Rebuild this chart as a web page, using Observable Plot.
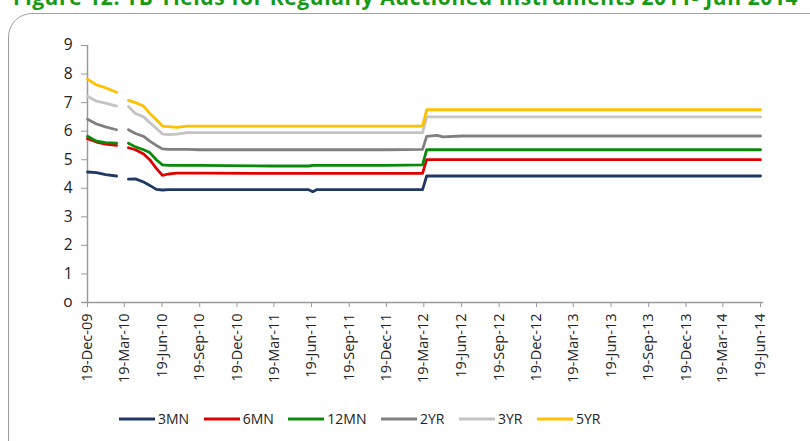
<!DOCTYPE html>
<html>
<head>
<meta charset="utf-8">
<script src="https://cdn.jsdelivr.net/npm/d3@7"></script>
<script src="https://cdn.jsdelivr.net/npm/@observablehq/plot@0.6"></script>
<style>
  html, body { margin: 0; padding: 0; background: #fff; width: 810px; height: 441px; overflow: hidden; position: relative; font-family: "Open Sans", sans-serif; }
  #title { position: absolute; left: 13px; top: -17px; white-space: nowrap; color: #159a15; font-weight: bold; font-size: 21px; letter-spacing: 0.6px; font-family: "Open Sans", sans-serif; }
  #box { position: absolute; left: 8px; top: 13px; width: 830px; height: 460px; border: 1.5px solid #a0a0a0; border-radius: 24px; box-sizing: border-box; }
  #chart { position: absolute; left: 0; top: 0; }
  #legend { position: absolute; top: 409px; left: 119px; display: flex; align-items: center; font-size: 14px; color: #222; }
  .item { display: flex; align-items: center; margin-right: 14.5px; }
  .item svg { margin-right: 3px; }
</style>
</head>
<body>
<div id="title">Figure 12: TB Yields for Regularly Auctioned Instruments 2011- Jun 2014</div>
<div id="box"></div>
<div id="chart"></div>
<div id="legend"></div>
<script>
const dates = ["2009-12-19","2010-01-10","2010-02-01","2010-02-28","2010-03-12","2010-03-29","2010-04-15","2010-05-05","2010-05-20","2010-06-05","2010-06-20","2010-07-05","2010-07-25","2010-08-20","2010-09-19","2011-03-19","2011-06-12","2011-06-22","2011-07-01","2011-12-19","2012-03-16","2012-03-26","2012-04-20","2012-05-05","2012-06-19","2013-06-19","2014-06-19"];

const mn3  = [4.57,4.55,4.48,4.43,null,4.32,4.33,4.22,4.10,3.96,3.94,3.95,3.95,3.95,3.95,3.95,3.95,3.88,3.95,3.95,3.95,4.43,4.43,4.43,4.43,4.43,4.43];
const mn6  = [5.74,5.62,5.55,5.50,null,5.42,5.35,5.20,5.00,4.70,4.45,4.50,4.53,4.53,4.53,4.52,4.52,4.52,4.52,4.52,4.52,5.00,5.00,5.00,5.00,5.00,5.00];
const mn12 = [5.82,5.65,5.60,5.58,null,5.58,5.45,5.35,5.25,5.00,4.82,4.80,4.80,4.80,4.80,4.78,4.78,4.80,4.80,4.80,4.82,5.35,5.35,5.35,5.35,5.35,5.35];
const yr2  = [6.42,6.25,6.15,6.05,null,6.05,5.92,5.82,5.65,5.50,5.38,5.36,5.36,5.36,5.35,5.35,5.35,5.35,5.35,5.35,5.36,5.82,5.85,5.80,5.83,5.83,5.83];
const yr3  = [7.22,7.05,6.98,6.88,null,6.86,6.62,6.50,6.30,6.10,5.90,5.88,5.90,5.95,5.95,5.95,5.95,5.95,5.95,5.95,5.95,6.50,6.50,6.50,6.50,6.50,6.50];
const yr5  = [7.82,7.62,7.52,7.36,null,7.08,7.00,6.88,6.62,6.40,6.18,6.16,6.13,6.18,6.18,6.18,6.18,6.18,6.18,6.18,6.18,6.75,6.75,6.75,6.75,6.75,6.75];

const seriesNames = ["3MN","6MN","12MN","2YR","3YR","5YR"];
const seriesValues = [mn3, mn6, mn12, yr2, yr3, yr5];
const colors = ["#1f3864","#e00000","#0a8a0a","#808080","#c4c4c4","#ffc000"];
const tickLabels = ["19-Dec-09","19-Mar-10","19-Jun-10","19-Sep-10","19-Dec-10","19-Mar-11","19-Jun-11","19-Sep-11","19-Dec-11","19-Mar-12","19-Jun-12","19-Sep-12","19-Dec-12","19-Mar-13","19-Jun-13","19-Sep-13","19-Dec-13","19-Mar-14","19-Jun-14"];
const yTicks = [0,1,2,3,4,5,6,7,8,9];

const parseIso = d3.utcParse("%Y-%m-%d");
const parseTick = d3.utcParse("%d-%b-%y");
const fmt = d3.utcFormat("%d-%b-%y");

const data = [];
seriesNames.forEach((s, k) => {
  dates.forEach((d, i) => {
    data.push({date: parseIso(d), value: seriesValues[k][i], series: s});
  });
});
const xTicks = tickLabels.map(parseTick);

const chart = Plot.plot({
  width: 810,
  height: 441,
  marginLeft: 87,
  marginRight: 50,
  marginTop: 45,
  marginBottom: 139,
  style: {fontFamily: "Open Sans, sans-serif", background: "transparent", overflow: "visible"},
  x: {type: "utc", domain: [xTicks[0], xTicks[xTicks.length - 1]]},
  y: {domain: [0, 9]},
  color: {domain: seriesNames, range: colors},
  marks: [
    Plot.axisY({ticks: yTicks, tickSize: 6, tickPadding: 9, stroke: "#9a9a9a", fontSize: 15.5, fill: "#222", label: null, tickFormat: d => d === 0 ? "o" : String(d)}),
    Plot.axisX({ticks: xTicks, tickFormat: fmt, tickSize: 5, tickPadding: 6, tickRotate: -90, stroke: "#9a9a9a", fontSize: 14.5, fill: "#222", label: null}),
    Plot.ruleX([xTicks[0]], {y1: 0, y2: 9, stroke: "#9a9a9a", strokeWidth: 1.5}),
    Plot.ruleY([0], {x1: xTicks[0], x2: xTicks[xTicks.length - 1], stroke: "#9a9a9a", strokeWidth: 1.5, insetLeft: -5, insetRight: -3}),
    Plot.line(data, {x: "date", y: "value", z: "series", stroke: "series", strokeWidth: 2.8, curve: "linear"})
  ]
});
document.getElementById("chart").appendChild(chart);

const legend = document.getElementById("legend");
seriesNames.forEach((s, k) => {
  const item = document.createElement("div");
  item.className = "item";
  item.innerHTML = `<svg width="36" height="6"><line x1="0" y1="3" x2="36" y2="3" stroke="${colors[k]}" stroke-width="3"/></svg><span>${s}</span>`;
  legend.appendChild(item);
});
</script>
</body>
</html>
